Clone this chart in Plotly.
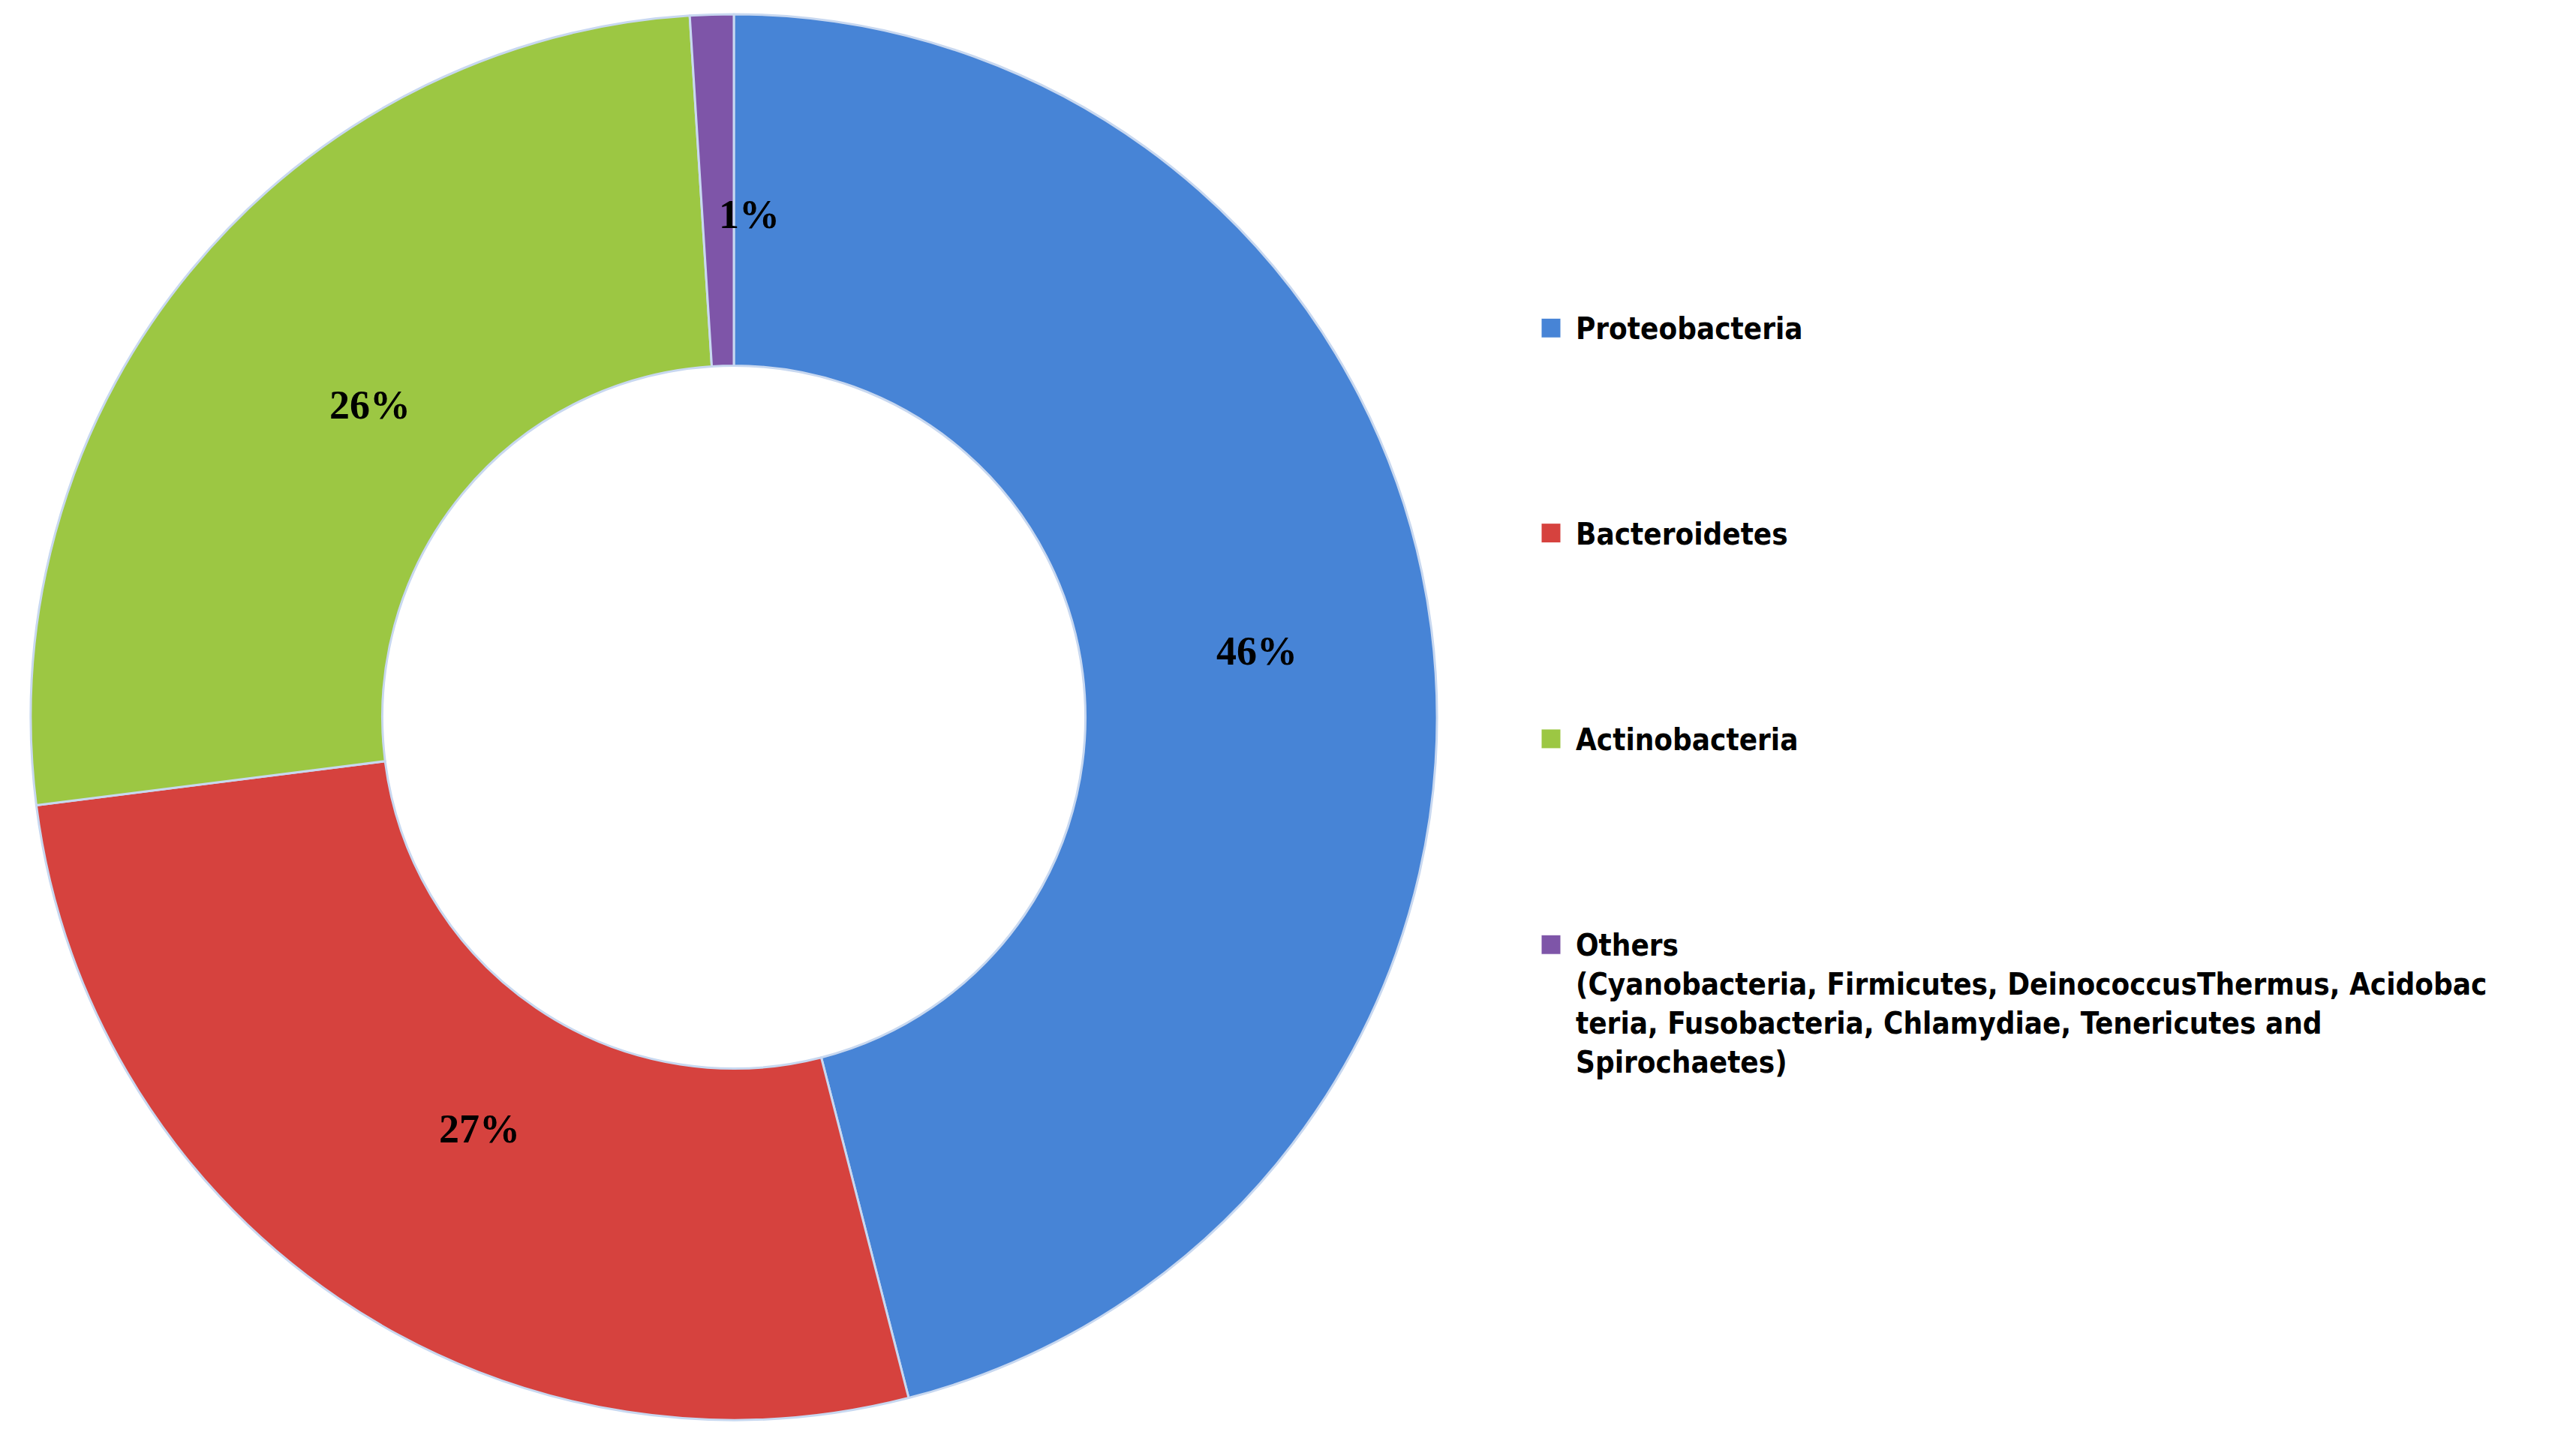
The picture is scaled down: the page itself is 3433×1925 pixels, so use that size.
import plotly.graph_objects as go
import math

labels = ["Proteobacteria", "Bacteroidetes", "Actinobacteria", "Others"]
values = [46, 27, 26, 1]
colors = ["#4784d6", "#d6423e", "#9cc743", "#7e55a8"]
legend_text = ["Proteobacteria", "Bacteroidetes", "Actinobacteria",
               "Others<br>(Cyanobacteria, Firmicutes, DeinococcusThermus, Acidobac<br>teria, Fusobacteria, Chlamydiae, Tenericutes and<br>Spirochaetes)"]

W, H = 3433, 1925
cx, cy, R, hole = 970, 948, 937, 0.5
fig = go.Figure(go.Pie(
    labels=labels, values=values, sort=False, direction="clockwise", rotation=0,
    hole=hole, marker=dict(colors=colors, line=dict(color="#c8d8f0", width=3)),
    textinfo="none", showlegend=False,
    domain=dict(x=[(cx - R) / W, (cx + R) / W], y=[1 - (cy + R) / H, 1 - (cy - R) / H]),
))

total = sum(values)
cum = 0
rm = R * (1 + hole) / 2
for v in values:
    a = math.radians((cum + v / 2) / total * 360)
    cum += v
    x = cx + rm * math.sin(a)
    y = cy - rm * math.cos(a)
    fig.add_annotation(x=x / W, y=1 - y / H, xref="paper", yref="paper",
                       text=f"<b>{round(v / total * 100)}%</b>", showarrow=False,
                       font=dict(family="Liberation Serif", size=54, color="black"))

ly = [0.777, 0.635, 0.4925, 0.350]
for t, c, y in zip(legend_text, colors, ly):
    fig.add_shape(type="rect", xref="paper", yref="paper",
                  x0=2046 / W, x1=2072 / W, y0=y - 13 / H, y1=y + 13 / H,
                  fillcolor=c, line=dict(color="#ffffff", width=1))
    fig.add_annotation(x=2090 / W, y=y + 24 / H, xref="paper", yref="paper",
                       xanchor="left", yanchor="top", align="left", showarrow=False,
                       text="<b>" + t + "</b>",
                       font=dict(family="DejaVu Sans Condensed", size=40, color="black"))
    fig.layout.annotations[-1].yshift = 0

fig.update_layout(width=W, height=H, margin=dict(l=0, r=0, t=0, b=0),
                  paper_bgcolor="white", plot_bgcolor="white")
fig.write_html("out.html")
